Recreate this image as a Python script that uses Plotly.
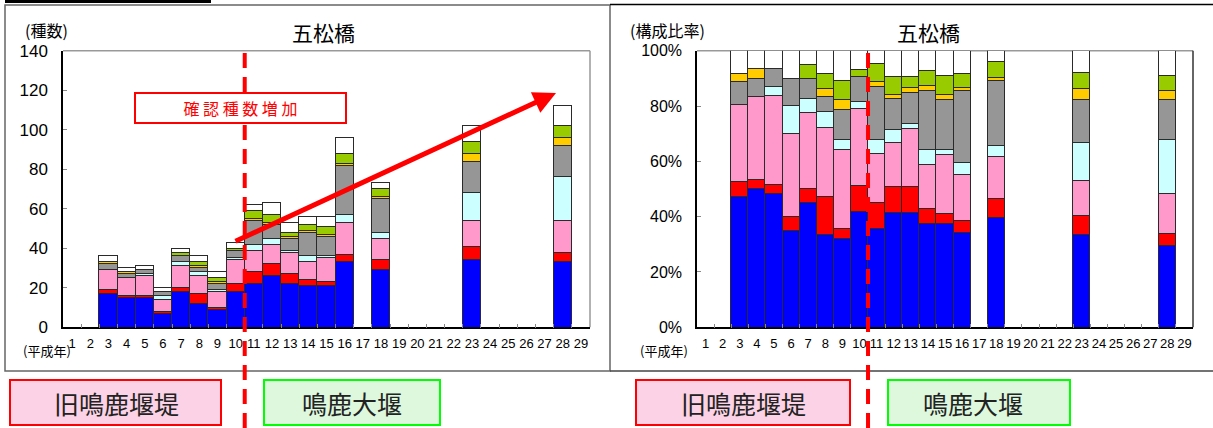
import plotly.graph_objects as go

W, H = 1213, 428

# ---------------- data ----------------
all_years = [str(i) for i in range(1, 30)]
years = [3, 4, 5, 6, 7, 8, 9, 10, 11, 12, 13, 14, 15, 16, 18, 23, 28]
blue = [17, 15, 15, 7, 18, 12, 9, 18, 22, 26, 22, 21, 21, 33, 29, 34, 33]
red = [2, 1, 1, 1, 2, 5, 1, 4, 6, 6, 5, 3, 2, 4, 5, 7, 5]
pink = [10, 9, 10, 6, 11, 9, 8, 12, 11, 10, 11, 9, 12, 16, 11, 13, 16]
cyan = [0, 0, 1, 2, 2, 2, 1, 1, 3, 3, 1, 3, 1, 4, 3, 14, 22]
gray = [3, 2, 2, 2, 3, 2, 3, 4, 12, 7, 6, 12, 10, 25, 17, 16, 16]
yellow = [1, 1, 0, 0, 0, 1, 1, 0, 1, 1, 1, 1, 1, 1, 1, 4, 4]
ygreen = [0, 0, 0, 0, 2, 2, 2, 1, 4, 4, 2, 3, 4, 5, 4, 6, 6]
white = [3, 2, 2, 2, 2, 3, 3, 3, 3, 6, 5, 4, 5, 8, 3, 8, 10]

series = [
    ("分類1", blue, "#0000FF"),
    ("分類2", red, "#FF0000"),
    ("分類3", pink, "#FF99CC"),
    ("分類4", cyan, "#CCFFFF"),
    ("分類5", gray, "#969696"),
    ("分類6", yellow, "#FFCC00"),
    ("分類7", ygreen, "#99CC00"),
    ("分類8", white, "#FFFFFF"),
]

left_ticks = [0, 20, 40, 60, 80, 100, 120, 140]
right_ticks = [0, 20, 40, 60, 80, 100]

station = "五松橋"
left_ylabel = "(種数)"
right_ylabel = "(構成比率)"
xlabel = "(平成年)"
note_text = "確 認 種 数 増 加"
old_dam = "旧鳴鹿堰堤"
new_dam = "鳴鹿大堰"


def X(px):
    return px / W


def Y(py):
    return 1 - py / H


totals = [sum(s[1][i] for s in series) for i in range(len(years))]
xcat = [str(y) for y in years]

fig = go.Figure()
for name, vals, col in series:
    fig.add_trace(go.Bar(x=xcat, y=vals, name=name, marker=dict(color=col, line=dict(color="#2a2a2a", width=1)),
                         xaxis="x", yaxis="y", showlegend=False))
for name, vals, col in series:
    pct = [v / t * 100 for v, t in zip(vals, totals)]
    fig.add_trace(go.Bar(x=xcat, y=pct, name=name, marker=dict(color=col, line=dict(color="#2a2a2a", width=1)),
                         xaxis="x2", yaxis="y2", showlegend=False))

xcommon = dict(type="category", categoryorder="array", categoryarray=all_years, range=[-0.5, 28.5],
               tickmode="array", tickvals=all_years, ticktext=all_years, tickangle=0,
               ticks="inside", tickson="boundaries", ticklen=4, tickcolor="#888888",
               showline=True, linecolor="black", linewidth=1.5, showgrid=False, automargin=False,
               tickfont=dict(family="Liberation Sans Narrow, Arial", size=13, color="black"),
               ticklabelstandoff=3)
ycommon = dict(ticks="inside", ticklen=4, tickcolor="#888888", showline=True, linecolor="black",
               linewidth=1.5, showgrid=False, zeroline=False, ticklabelstandoff=10, automargin=False)

fig.update_layout(
    width=W, height=H, margin=dict(l=0, r=0, t=0, b=0, autoexpand=False),
    paper_bgcolor="white", plot_bgcolor="white",
    barmode="stack", bargap=0,
    xaxis=dict(domain=[X(63), X(590)], anchor="y", **xcommon),
    yaxis=dict(domain=[Y(327.3), Y(50.7)], anchor="x", range=[0, 140], tickmode="array",
               tickvals=left_ticks, ticktext=[str(v) for v in left_ticks],
               tickfont=dict(family="Arial", size=17, color="black"), **ycommon),
    xaxis2=dict(domain=[X(697), X(1193)], anchor="y2", **xcommon),
    yaxis2=dict(domain=[Y(327.3), Y(50.7)], anchor="x2", range=[0, 100], tickmode="array",
                tickvals=right_ticks, ticktext=[f"{v}%" for v in right_ticks],
                tickfont=dict(family="Arial", size=16, color="black"), **ycommon),
    font=dict(family="Noto Sans CJK JP"),
)

shapes = []
# panel frames
shapes.append(dict(type="rect", xref="paper", yref="paper", x0=X(5), x1=X(610), y0=Y(371), y1=Y(5),
                   line=dict(color="#666666", width=1.5), layer="below"))
shapes.append(dict(type="line", xref="paper", yref="paper", x0=X(610), x1=X(1213), y0=Y(4.5), y1=Y(4.5),
                   line=dict(color="black", width=1.5)))
shapes.append(dict(type="line", xref="paper", yref="paper", x0=X(610), x1=X(1213), y0=Y(371), y1=Y(371),
                   line=dict(color="#444444", width=1.5)))
shapes.append(dict(type="rect", xref="paper", yref="paper", x0=X(5), x1=X(211), y0=Y(3), y1=Y(0),
                   fillcolor="black", line=dict(width=0)))
# plot area borders (top grey, right darker)
for xl, xr, rc in ((63, 590, "#999999"), (697, 1193, "#333333")):
    shapes.append(dict(type="line", xref="paper", yref="paper", x0=X(xl), x1=X(xr), y0=Y(50.7), y1=Y(50.7),
                       line=dict(color="#999999", width=1.5), layer="below"))
    shapes.append(dict(type="line", xref="paper", yref="paper", x0=X(xr), x1=X(xr), y0=Y(327.3), y1=Y(50.7),
                       line=dict(color=rc, width=1.5), layer="below"))
# dashed division lines
shapes.append(dict(type="line", xref="x", yref="paper", x0=9.5, x1=9.5, y0=0, y1=Y(53),
                   line=dict(color="#FF0000", width=4, dash="15px,9px"), layer="above"))
shapes.append(dict(type="line", xref="x2", yref="paper", x0=9.5, x1=9.5, y0=0, y1=Y(48),
                   line=dict(color="#FF0000", width=4, dash="15px,9px"), layer="above"))
# bottom label boxes
for x0, x1, fill, lc in ((10, 221, "#FCD3E6", "#FF0000"), (264, 440, "#DDF8DD", "#00FF00"),
                         (636, 850, "#FCD3E6", "#FF0000"), (888, 1070, "#DDF8DD", "#00FF00")):
    shapes.append(dict(type="rect", xref="paper", yref="paper", x0=X(x0), x1=X(x1), y0=Y(425), y1=Y(380),
                       fillcolor=fill, line=dict(color=lc, width=2)))
fig.update_layout(shapes=shapes)


def label(px, py, text, size, color="black", family="Noto Sans CJK JP"):
    return dict(xref="paper", yref="paper", x=X(px), y=Y(py), xanchor="center", yanchor="middle",
                text=text, showarrow=False, font=dict(size=size, color=color, family=family))


ann = []
ann.append(label(323, 32, station, 21))
ann.append(label(928, 32, station, 21))
ann.append(label(46, 30, left_ylabel, 16))
ann.append(label(667, 30, right_ylabel, 16))
ann.append(label(47, 350, xlabel, 13))
ann.append(label(664, 350, xlabel, 13))
# note box
ann.append(dict(xref="x", yref="y", x=9.24, y=111, xanchor="center", yanchor="middle", text=note_text,
                showarrow=False, font=dict(size=16, color="#FF0000"), bgcolor="white", bordercolor="#FF0000",
                borderwidth=2, borderpad=2, width=205, height=24))
# arrow
ann.append(dict(xref="x", yref="y", x=26.63, y=118.6, axref="x", ayref="y", ax=8.91, ay=43.2,
                text="", showarrow=True, arrowhead=2, arrowsize=0.9, arrowwidth=5, arrowcolor="#FF0000",
                standoff=0, startstandoff=0))
# bottom texts
for cx, txt in ((116, old_dam), (352, new_dam), (743, old_dam), (973, new_dam)):
    ann.append(label(cx, 403, txt, 25, color="#222222"))
fig.update_layout(annotations=ann)

fig.write_html("out.html", config={"displayModeBar": False},
               post_script="document.body.style.margin='0';")
